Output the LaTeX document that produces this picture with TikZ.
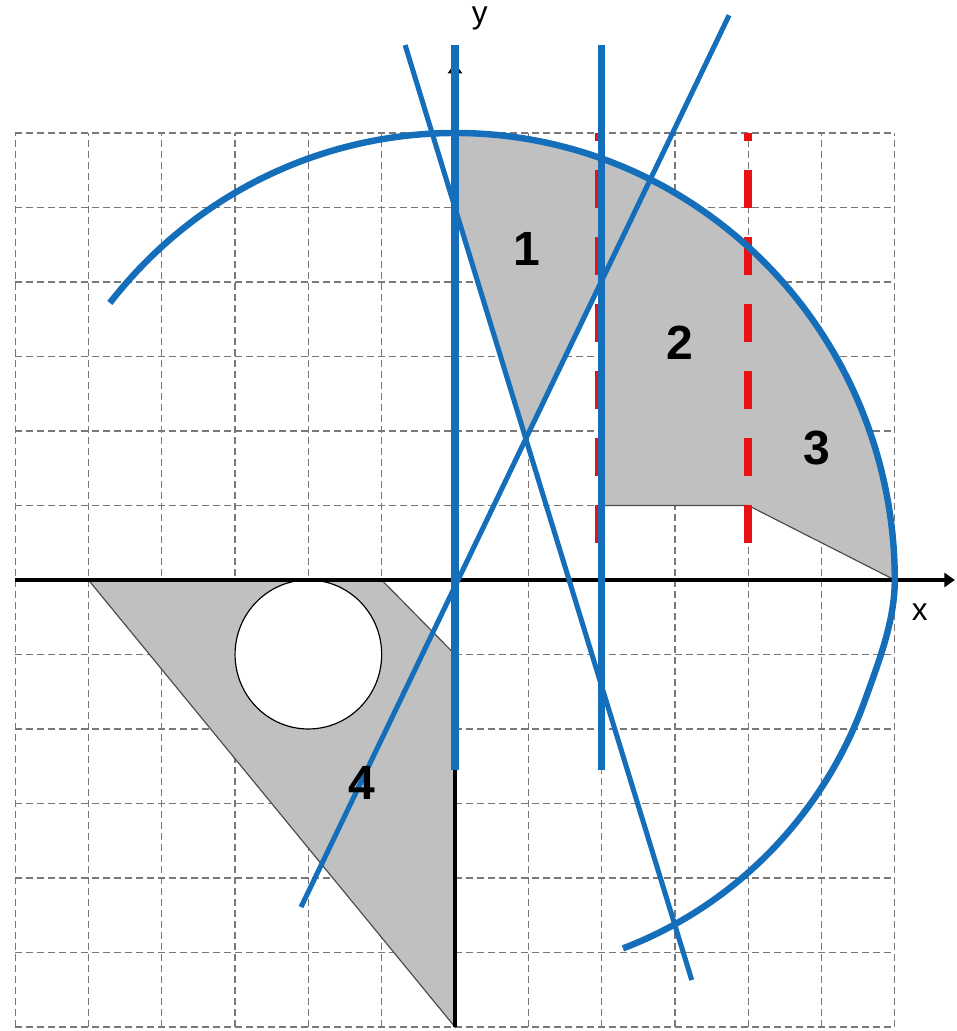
\documentclass[tikz,border=0pt]{standalone}
\usepackage{fontspec}
\setmainfont{Liberation Sans}
\usetikzlibrary{arrows.meta}
\definecolor{plotblue}{RGB}{20,110,185}
\definecolor{plotred}{RGB}{232,18,18}
\definecolor{regiongray}{RGB}{192,192,192}
\definecolor{gridgray}{RGB}{120,120,120}
\begin{document}
\begin{tikzpicture}[x=2.199cm,y=2.235cm,
  gridl/.style={gridgray,line width=1.1pt,dash pattern=on 0.2cm off 0.13cm},
  region/.style={fill=regiongray,draw=gray!60!black,line width=1pt},
  axisl/.style={line width=3.6pt,-{Triangle[length=9pt,width=12pt]}},
  bluethick/.style={plotblue,line width=6.4pt},
  bluethin/.style={plotblue,line width=4.3pt},
  reddash/.style={plotred,line width=6.4pt,dash pattern=on 1.13cm off 0.88cm},
  num/.style={font=\bfseries\fontsize{41}{41}\selectfont},
  axlab/.style={font=\fontsize{27}{27}\selectfont}]
\useasboundingbox(-6.207,-6.054)rectangle(6.849,7.785);
\foreach \i in {-6,...,6}{\draw[gridl](\i,-6)--(\i,6);\draw[gridl](-6,\i)--(6,\i);}
\coordinate(s1)at(-0.68,7.18);\coordinate(s2)at(3.23,-5.37);
\coordinate(t1)at(-2.1,-4.39);\coordinate(t2)at(3.74,7.58);
\coordinate(cr)at(intersection of s1--s2 and t1--t2);
\draw[region](0,6)arc[start angle=90,end angle=0,radius=6]--(4,1)--(2,1)--(2,4.02)--(cr)--(0,5)--cycle;
\draw[region](-5,0)--(-1,0)--(0,-1)--(0,-6)--cycle;
\draw[fill=white,line width=1pt](-2,-1)circle[radius=1];
\draw[reddash](4,0.5)--(4,6);\draw[reddash](1.96,0.5)--(1.96,6);
\draw[axisl](-6,0)--(6.82,0);\draw[axisl](0,-6)--(0,6.94);
\draw[bluethick](0,-2.55)--(0,7.18);\draw[bluethick](2,-2.55)--(2,7.18);
\draw[bluethin](s1)--(s2);\draw[bluethin](t1)--(t2);
\draw[plotblue,line width=5.5pt](141.7:6)arc[start angle=141.7,end angle=0,radius=6]
  ..controls(6,-0.55)and(5.784,-1.09)..(5.596,-1.607)arc[start angle=-20,end angle=-69.4,radius=5.62];
\node[num](n1)at(0.98,4.44){1};\node[num](n2)at(3.07,3.19){2};
\node[num](n3)at(4.94,1.77){3};\node[num](n4)at(-1.27,-2.72){4};
\node[axlab](xl)at(6.34,-0.43){x};\node[axlab](yl)at(0.34,7.54){y};
\end{tikzpicture}
\end{document}
